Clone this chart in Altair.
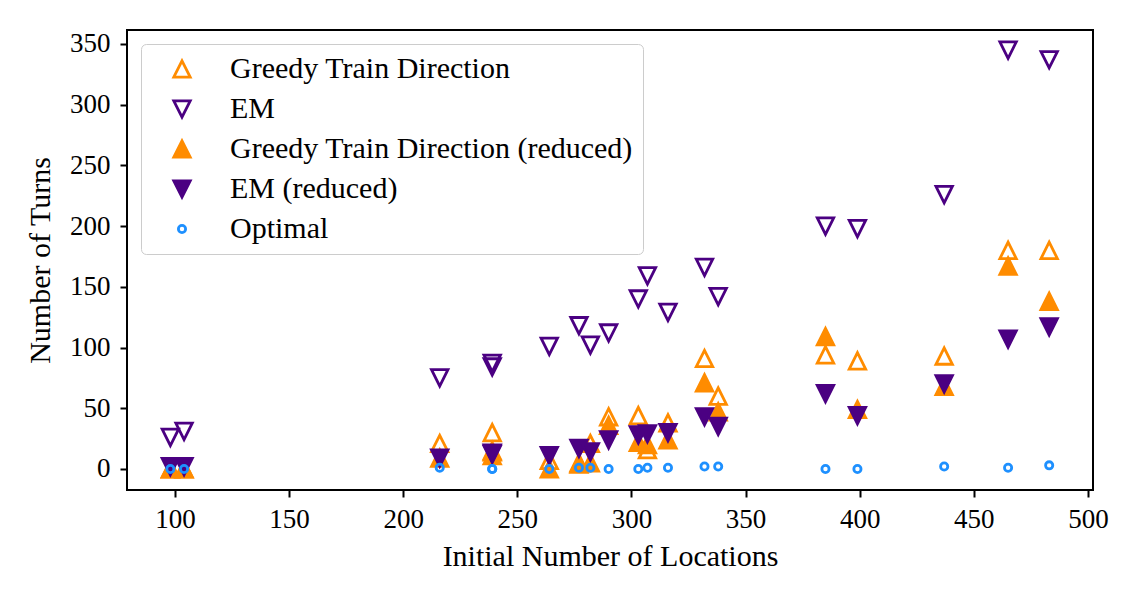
import altair as alt
import pandas as pd

# ---- data ----
locations = [98, 104, 216, 239, 239, 264, 277, 282, 290, 303, 307, 316, 332, 338, 385, 399, 437, 465, 483]
greedy =     [0, 0, 21, 30, 14, 7, 5, 21, 43, 44, 16, 38, 91, 60, 94, 89, 93, 180, 180]
em =         [26, 31, 75, 87, 84, 101, 118, 102, 112, 140, 159, 129, 166, 142, 200, 198, 226, 345, 337]
greedy_red = [0, 0, 9, 15, 11, 0, 4, 5, 36, 22, 20, 24, 71, 47, 109, 49, 68, 167, 138]
em_red =     [2, 2, 9, 13, 12, 11, 17, 14, 24, 28, 29, 30, 43, 35, 62, 44, 70, 107, 117]
optimal =    [0, 0, 1, 0, 0, 0, 1, 1, 0, 0, 1, 1, 2, 2, 0, 0, 2, 1, 3]

series_names = [
    "Greedy Train Direction",
    "EM",
    "Greedy Train Direction (reduced)",
    "EM (reduced)",
    "Optimal",
]
series_values = [greedy, em, greedy_red, em_red, optimal]

stroke_colors = ["#ff8c00", "#4b0082", "#ff8c00", "#4b0082", "#1e90ff"]
fill_colors = ["transparent", "transparent", "#ff8c00", "#4b0082", "transparent"]
tri_up = "M0,-1L1,1L-1,1Z"
tri_down = "M0,1L1,-1L-1,-1Z"
shapes = [tri_up, tri_down, tri_up, tri_down, "circle"]
sizes = [270, 270, 270, 270, 52]

rows = []
for i, (name, vals) in enumerate(zip(series_names, series_values)):
    for x, y in zip(locations, vals):
        rows.append({"series": name, "order": i, "locations": x, "turns": y})
df = pd.DataFrame(rows)

FONT = "Liberation Serif"

legend = alt.Legend(
    title=None,
    orient="none",
    legendX=14,
    legendY=14,
    labelFont=FONT,
    labelFontSize=30,
    labelLimit=1000,
    labelOffset=33,
    symbolOffset=16,
    symbolStrokeWidth=2.8,
    rowPadding=10,
    padding=10,
    cornerRadius=5,
    strokeColor="#cccccc",
    fillColor="rgba(255,255,255,0.85)",
)

sc = alt.Scale(domain=series_names, range=stroke_colors)
chart = (
    alt.Chart(df)
    .mark_point(filled=False, strokeWidth=2.8, opacity=1)
    .encode(
        x=alt.X(
            "locations:Q",
            title="Initial Number of Locations",
            scale=alt.Scale(domain=[79, 502.2], nice=False, zero=False),
            axis=alt.Axis(values=[100, 150, 200, 250, 300, 350, 400, 450, 500],
                          labelPadding=9, titlePadding=9),
        ),
        y=alt.Y(
            "turns:Q",
            title="Number of Turns",
            scale=alt.Scale(domain=[-17.3, 361.5], nice=False, zero=False),
            axis=alt.Axis(values=[0, 50, 100, 150, 200, 250, 300, 350],
                          labelPadding=10, titlePadding=14),
        ),
        stroke=alt.Stroke("series:N", scale=sc, sort=series_names, legend=legend),
        fill=alt.Fill("series:N", scale=alt.Scale(domain=series_names, range=fill_colors),
                      sort=series_names, legend=legend),
        shape=alt.Shape("series:N", scale=alt.Scale(domain=series_names, range=shapes),
                        sort=series_names, legend=legend),
        size=alt.Size("series:N",
                      scale=alt.Scale(type="ordinal", domain=series_names, range=sizes),
                      sort=series_names, legend=legend),
        order=alt.Order("order:Q"),
    )
    .properties(
        width=966,
        height=460,
        autosize=alt.AutoSizeParams(type="none"),
        padding={"left": 119, "top": 22, "right": 30, "bottom": 80},
    )
    .configure_view(stroke="black", strokeWidth=2)
    .configure_axis(
        grid=False,
        domain=False,
        tickColor="black",
        tickWidth=2,
        tickSize=7,
        labelFont=FONT,
        labelFontSize=27,
        labelColor="black",
        titleFont=FONT,
        titleFontSize=30,
        titleFontWeight="normal",
        titleColor="black",
    )
)

chart.save("out.html", embed_options={"renderer": "svg", "actions": False})
